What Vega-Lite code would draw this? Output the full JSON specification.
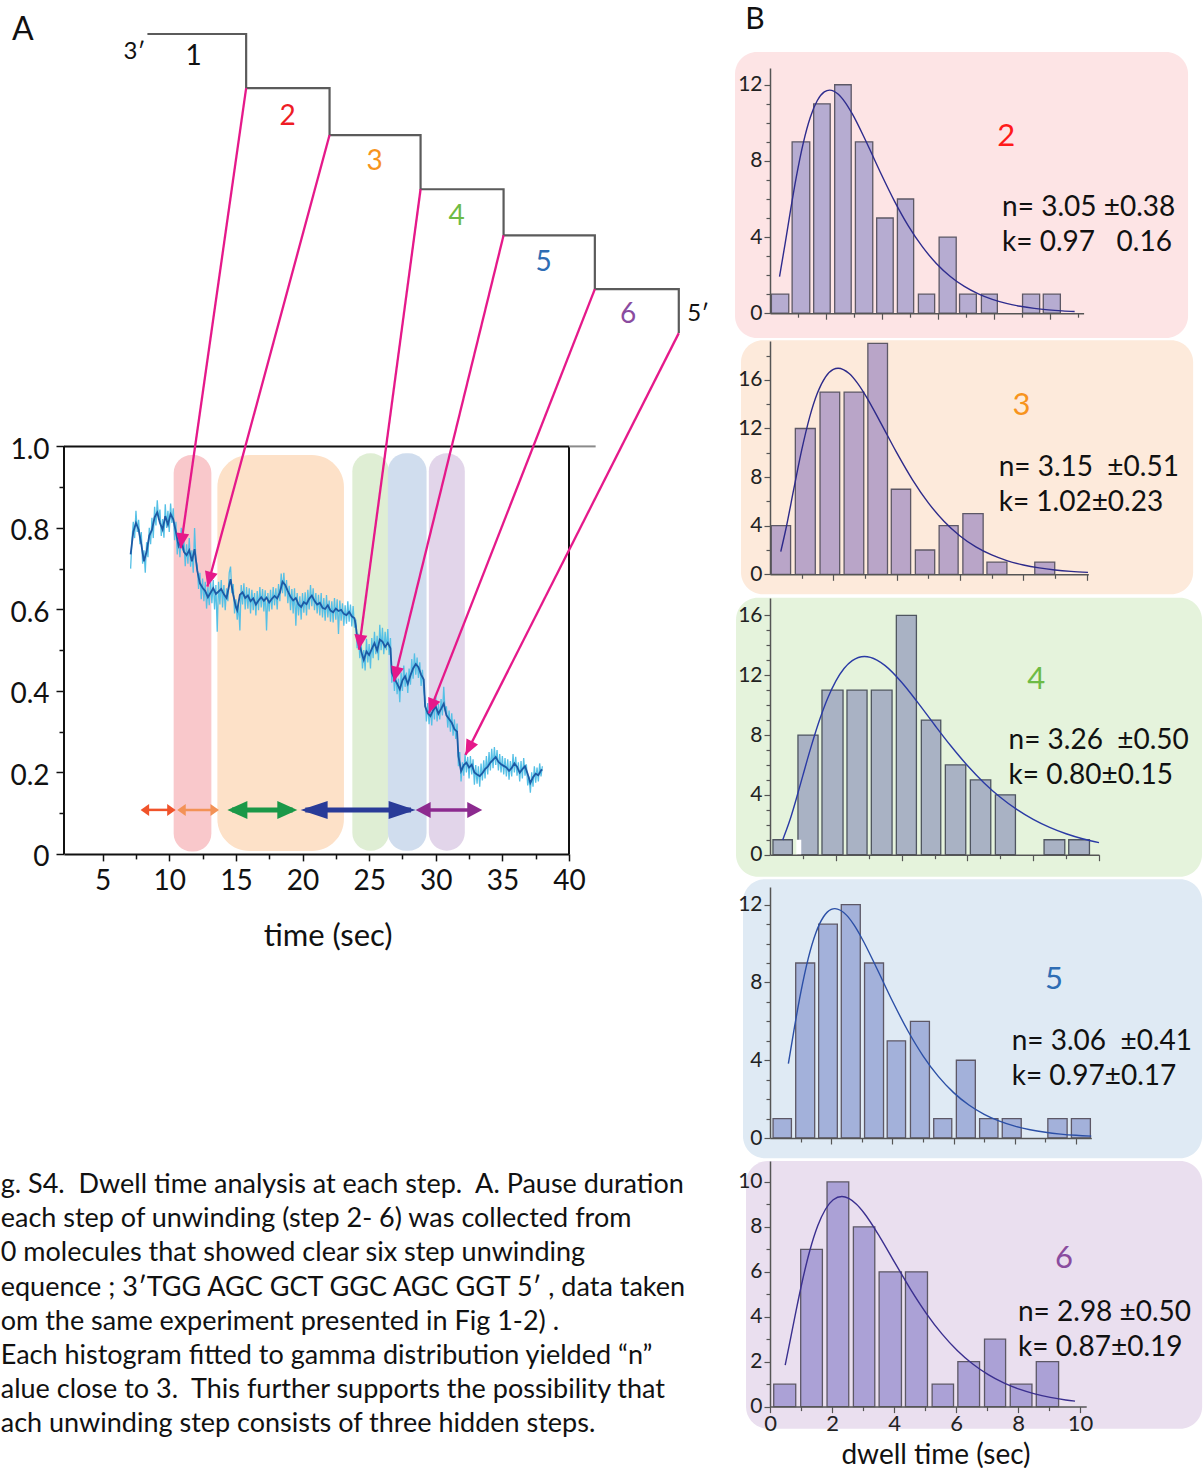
{
  "$schema": "https://vega.github.io/schema/vega-lite/v6.json",
  "background": "white",
  "padding": {"left": 0, "top": 5, "right": 0, "bottom": 0},
  "config": {
    "view": {"stroke": null},
    "font": "Lato",
    "axis": {"labelFont": "Lato", "titleFont": "Lato", "grid": false}
  },
  "datasets": {
    "smooth": [
      {"x":7.1,"y":0.735},{"x":7.3,"y":0.79},{"x":7.5,"y":0.812},{"x":7.7,"y":0.796},{"x":7.9,"y":0.76},{"x":8.1,"y":0.718},{"x":8.3,"y":0.742},{"x":8.5,"y":0.781},{"x":8.7,"y":0.795},{"x":8.9,"y":0.826},{"x":9.1,"y":0.838},{"x":9.3,"y":0.812},{"x":9.5,"y":0.796},{"x":9.7,"y":0.829},{"x":9.9,"y":0.808},{"x":10.1,"y":0.834},{"x":10.3,"y":0.821},{"x":10.5,"y":0.79},{"x":10.7,"y":0.756},{"x":10.9,"y":0.772},{"x":11.1,"y":0.741},{"x":11.3,"y":0.733},{"x":11.5,"y":0.745},{"x":11.7,"y":0.718},{"x":11.9,"y":0.748},{"x":12.1,"y":0.695},{"x":12.3,"y":0.664},{"x":12.5,"y":0.653},{"x":12.7,"y":0.645},{"x":12.9,"y":0.63},{"x":13.1,"y":0.641},{"x":13.3,"y":0.652},{"x":13.5,"y":0.638},{"x":13.7,"y":0.644},{"x":13.9,"y":0.65},{"x":14.1,"y":0.637},{"x":14.3,"y":0.628},{"x":14.5,"y":0.66},{"x":14.6,"y":0.674},{"x":14.8,"y":0.636},{"x":15.0,"y":0.606},{"x":15.1,"y":0.598},{"x":15.3,"y":0.636},{"x":15.5,"y":0.642},{"x":15.7,"y":0.628},{"x":15.9,"y":0.634},{"x":16.1,"y":0.62},{"x":16.3,"y":0.627},{"x":16.5,"y":0.612},{"x":16.7,"y":0.622},{"x":16.9,"y":0.63},{"x":17.1,"y":0.621},{"x":17.3,"y":0.629},{"x":17.5,"y":0.617},{"x":17.7,"y":0.626},{"x":17.9,"y":0.633},{"x":18.1,"y":0.627},{"x":18.3,"y":0.641},{"x":18.5,"y":0.668},{"x":18.7,"y":0.66},{"x":18.9,"y":0.645},{"x":19.1,"y":0.631},{"x":19.3,"y":0.622},{"x":19.5,"y":0.628},{"x":19.7,"y":0.612},{"x":19.9,"y":0.606},{"x":20.1,"y":0.618},{"x":20.3,"y":0.613},{"x":20.5,"y":0.626},{"x":20.7,"y":0.634},{"x":20.9,"y":0.621},{"x":21.1,"y":0.612},{"x":21.3,"y":0.616},{"x":21.5,"y":0.604},{"x":21.7,"y":0.601},{"x":21.9,"y":0.61},{"x":22.1,"y":0.597},{"x":22.3,"y":0.593},{"x":22.5,"y":0.602},{"x":22.7,"y":0.596},{"x":22.9,"y":0.599},{"x":23.1,"y":0.589},{"x":23.3,"y":0.586},{"x":23.5,"y":0.594},{"x":23.7,"y":0.583},{"x":23.9,"y":0.578},{"x":24.0,"y":0.56},{"x":24.1,"y":0.533},{"x":24.3,"y":0.511},{"x":24.5,"y":0.486},{"x":24.6,"y":0.476},{"x":24.8,"y":0.497},{"x":25.0,"y":0.488},{"x":25.2,"y":0.503},{"x":25.4,"y":0.517},{"x":25.6,"y":0.499},{"x":25.8,"y":0.526},{"x":26.0,"y":0.521},{"x":26.2,"y":0.508},{"x":26.4,"y":0.518},{"x":26.6,"y":0.505},{"x":26.7,"y":0.445},{"x":26.9,"y":0.43},{"x":27.1,"y":0.418},{"x":27.3,"y":0.404},{"x":27.5,"y":0.426},{"x":27.7,"y":0.436},{"x":27.9,"y":0.417},{"x":28.1,"y":0.438},{"x":28.3,"y":0.455},{"x":28.5,"y":0.466},{"x":28.7,"y":0.458},{"x":28.9,"y":0.44},{"x":29.1,"y":0.428},{"x":29.2,"y":0.362},{"x":29.4,"y":0.345},{"x":29.6,"y":0.338},{"x":29.8,"y":0.352},{"x":30.0,"y":0.362},{"x":30.2,"y":0.344},{"x":30.4,"y":0.356},{"x":30.6,"y":0.369},{"x":30.8,"y":0.34},{"x":31.0,"y":0.331},{"x":31.2,"y":0.322},{"x":31.4,"y":0.306},{"x":31.6,"y":0.3},{"x":31.7,"y":0.24},{"x":31.9,"y":0.203},{"x":32.1,"y":0.218},{"x":32.3,"y":0.224},{"x":32.5,"y":0.212},{"x":32.7,"y":0.219},{"x":32.9,"y":0.2},{"x":33.1,"y":0.195},{"x":33.3,"y":0.191},{"x":33.5,"y":0.198},{"x":33.7,"y":0.208},{"x":33.9,"y":0.214},{"x":34.1,"y":0.224},{"x":34.3,"y":0.231},{"x":34.5,"y":0.238},{"x":34.7,"y":0.226},{"x":34.9,"y":0.22},{"x":35.1,"y":0.216},{"x":35.3,"y":0.212},{"x":35.5,"y":0.204},{"x":35.7,"y":0.211},{"x":35.9,"y":0.222},{"x":36.1,"y":0.214},{"x":36.3,"y":0.199},{"x":36.5,"y":0.208},{"x":36.7,"y":0.215},{"x":36.9,"y":0.196},{"x":37.1,"y":0.174},{"x":37.3,"y":0.188},{"x":37.5,"y":0.197},{"x":37.7,"y":0.193},{"x":37.9,"y":0.205},{"x":38.0,"y":0.207}
    ],
    "raw": [
      {"x":7.1,"y":0.7},{"x":7.2,"y":0.77},{"x":7.3,"y":0.815},{"x":7.4,"y":0.775},{"x":7.5,"y":0.842},{"x":7.6,"y":0.79},{"x":7.7,"y":0.82},{"x":7.8,"y":0.76},{"x":7.9,"y":0.79},{"x":8.0,"y":0.712},{"x":8.1,"y":0.745},{"x":8.2,"y":0.69},{"x":8.3,"y":0.765},{"x":8.4,"y":0.728},{"x":8.5,"y":0.8},{"x":8.6,"y":0.76},{"x":8.7,"y":0.825},{"x":8.8,"y":0.775},{"x":8.9,"y":0.852},{"x":9.0,"y":0.806},{"x":9.1,"y":0.868},{"x":9.2,"y":0.82},{"x":9.3,"y":0.845},{"x":9.4,"y":0.78},{"x":9.5,"y":0.822},{"x":9.6,"y":0.776},{"x":9.7,"y":0.858},{"x":9.8,"y":0.8},{"x":9.9,"y":0.842},{"x":10.0,"y":0.79},{"x":10.1,"y":0.86},{"x":10.2,"y":0.812},{"x":10.3,"y":0.848},{"x":10.4,"y":0.77},{"x":10.5,"y":0.815},{"x":10.6,"y":0.735},{"x":10.7,"y":0.782},{"x":10.8,"y":0.728},{"x":10.9,"y":0.8},{"x":11.0,"y":0.745},{"x":11.1,"y":0.77},{"x":11.2,"y":0.706},{"x":11.3,"y":0.76},{"x":11.4,"y":0.712},{"x":11.5,"y":0.775},{"x":11.6,"y":0.705},{"x":11.7,"y":0.745},{"x":11.8,"y":0.69},{"x":11.9,"y":0.8},{"x":12.0,"y":0.72},{"x":12.1,"y":0.708},{"x":12.2,"y":0.65},{"x":12.3,"y":0.69},{"x":12.4,"y":0.625},{"x":12.5,"y":0.676},{"x":12.6,"y":0.62},{"x":12.7,"y":0.668},{"x":12.8,"y":0.602},{"x":12.9,"y":0.655},{"x":13.0,"y":0.61},{"x":13.1,"y":0.668},{"x":13.2,"y":0.615},{"x":13.3,"y":0.672},{"x":13.4,"y":0.6},{"x":13.5,"y":0.66},{"x":13.6,"y":0.545},{"x":13.7,"y":0.668},{"x":13.8,"y":0.612},{"x":13.9,"y":0.672},{"x":14.0,"y":0.605},{"x":14.1,"y":0.66},{"x":14.2,"y":0.598},{"x":14.3,"y":0.652},{"x":14.4,"y":0.62},{"x":14.5,"y":0.69},{"x":14.6,"y":0.705},{"x":14.7,"y":0.64},{"x":14.8,"y":0.662},{"x":14.9,"y":0.59},{"x":15.0,"y":0.625},{"x":15.1,"y":0.575},{"x":15.2,"y":0.612},{"x":15.3,"y":0.548},{"x":15.4,"y":0.66},{"x":15.5,"y":0.612},{"x":15.6,"y":0.664},{"x":15.7,"y":0.6},{"x":15.8,"y":0.655},{"x":15.9,"y":0.602},{"x":16.0,"y":0.652},{"x":16.1,"y":0.59},{"x":16.2,"y":0.648},{"x":16.3,"y":0.598},{"x":16.4,"y":0.64},{"x":16.5,"y":0.585},{"x":16.6,"y":0.645},{"x":16.7,"y":0.598},{"x":16.8,"y":0.655},{"x":16.9,"y":0.605},{"x":17.0,"y":0.65},{"x":17.1,"y":0.595},{"x":17.2,"y":0.647},{"x":17.3,"y":0.548},{"x":17.4,"y":0.64},{"x":17.5,"y":0.595},{"x":17.6,"y":0.648},{"x":17.7,"y":0.6},{"x":17.8,"y":0.655},{"x":17.9,"y":0.61},{"x":18.0,"y":0.652},{"x":18.1,"y":0.6},{"x":18.2,"y":0.662},{"x":18.3,"y":0.62},{"x":18.4,"y":0.688},{"x":18.5,"y":0.64},{"x":18.6,"y":0.69},{"x":18.7,"y":0.632},{"x":18.8,"y":0.672},{"x":18.9,"y":0.615},{"x":19.0,"y":0.658},{"x":19.1,"y":0.598},{"x":19.2,"y":0.65},{"x":19.3,"y":0.59},{"x":19.4,"y":0.652},{"x":19.5,"y":0.56},{"x":19.6,"y":0.64},{"x":19.7,"y":0.585},{"x":19.8,"y":0.632},{"x":19.9,"y":0.575},{"x":20.0,"y":0.64},{"x":20.1,"y":0.592},{"x":20.2,"y":0.642},{"x":20.3,"y":0.585},{"x":20.4,"y":0.648},{"x":20.5,"y":0.6},{"x":20.6,"y":0.66},{"x":20.7,"y":0.608},{"x":20.8,"y":0.652},{"x":20.9,"y":0.598},{"x":21.0,"y":0.64},{"x":21.1,"y":0.59},{"x":21.2,"y":0.636},{"x":21.3,"y":0.585},{"x":21.4,"y":0.64},{"x":21.5,"y":0.58},{"x":21.6,"y":0.628},{"x":21.7,"y":0.572},{"x":21.8,"y":0.635},{"x":21.9,"y":0.58},{"x":22.0,"y":0.622},{"x":22.1,"y":0.57},{"x":22.2,"y":0.62},{"x":22.3,"y":0.568},{"x":22.4,"y":0.628},{"x":22.5,"y":0.575},{"x":22.6,"y":0.625},{"x":22.7,"y":0.54},{"x":22.8,"y":0.622},{"x":22.9,"y":0.572},{"x":23.0,"y":0.615},{"x":23.1,"y":0.56},{"x":23.2,"y":0.61},{"x":23.3,"y":0.565},{"x":23.4,"y":0.62},{"x":23.5,"y":0.57},{"x":23.6,"y":0.612},{"x":23.7,"y":0.558},{"x":23.8,"y":0.608},{"x":23.9,"y":0.555},{"x":24.0,"y":0.575},{"x":24.1,"y":0.505},{"x":24.2,"y":0.54},{"x":24.3,"y":0.48},{"x":24.4,"y":0.52},{"x":24.5,"y":0.455},{"x":24.6,"y":0.5},{"x":24.7,"y":0.45},{"x":24.8,"y":0.528},{"x":24.9,"y":0.47},{"x":25.0,"y":0.515},{"x":25.1,"y":0.455},{"x":25.2,"y":0.53},{"x":25.3,"y":0.48},{"x":25.4,"y":0.545},{"x":25.5,"y":0.49},{"x":25.6,"y":0.535},{"x":25.7,"y":0.475},{"x":25.8,"y":0.562},{"x":25.9,"y":0.5},{"x":26.0,"y":0.555},{"x":26.1,"y":0.49},{"x":26.2,"y":0.545},{"x":26.3,"y":0.5},{"x":26.4,"y":0.552},{"x":26.5,"y":0.488},{"x":26.6,"y":0.53},{"x":26.7,"y":0.42},{"x":26.8,"y":0.455},{"x":26.9,"y":0.4},{"x":27.0,"y":0.445},{"x":27.1,"y":0.392},{"x":27.2,"y":0.43},{"x":27.3,"y":0.372},{"x":27.4,"y":0.445},{"x":27.5,"y":0.4},{"x":27.6,"y":0.462},{"x":27.7,"y":0.41},{"x":27.8,"y":0.445},{"x":27.9,"y":0.395},{"x":28.0,"y":0.455},{"x":28.1,"y":0.415},{"x":28.2,"y":0.478},{"x":28.3,"y":0.43},{"x":28.4,"y":0.492},{"x":28.5,"y":0.44},{"x":28.6,"y":0.482},{"x":28.7,"y":0.432},{"x":28.8,"y":0.47},{"x":28.9,"y":0.412},{"x":29.0,"y":0.452},{"x":29.1,"y":0.4},{"x":29.2,"y":0.38},{"x":29.3,"y":0.325},{"x":29.4,"y":0.37},{"x":29.5,"y":0.318},{"x":29.6,"y":0.36},{"x":29.7,"y":0.315},{"x":29.8,"y":0.375},{"x":29.9,"y":0.33},{"x":30.0,"y":0.388},{"x":30.1,"y":0.325},{"x":30.2,"y":0.368},{"x":30.3,"y":0.33},{"x":30.4,"y":0.38},{"x":30.5,"y":0.34},{"x":30.6,"y":0.41},{"x":30.7,"y":0.35},{"x":30.8,"y":0.362},{"x":30.9,"y":0.31},{"x":31.0,"y":0.352},{"x":31.1,"y":0.3},{"x":31.2,"y":0.345},{"x":31.3,"y":0.29},{"x":31.4,"y":0.33},{"x":31.5,"y":0.282},{"x":31.6,"y":0.32},{"x":31.7,"y":0.215},{"x":31.8,"y":0.25},{"x":31.9,"y":0.178},{"x":32.0,"y":0.225},{"x":32.1,"y":0.192},{"x":32.2,"y":0.245},{"x":32.3,"y":0.2},{"x":32.4,"y":0.238},{"x":32.5,"y":0.185},{"x":32.6,"y":0.24},{"x":32.7,"y":0.195},{"x":32.8,"y":0.232},{"x":32.9,"y":0.17},{"x":33.0,"y":0.218},{"x":33.1,"y":0.172},{"x":33.2,"y":0.215},{"x":33.3,"y":0.165},{"x":33.4,"y":0.222},{"x":33.5,"y":0.18},{"x":33.6,"y":0.23},{"x":33.7,"y":0.185},{"x":33.8,"y":0.24},{"x":33.9,"y":0.195},{"x":34.0,"y":0.25},{"x":34.1,"y":0.205},{"x":34.2,"y":0.258},{"x":34.3,"y":0.21},{"x":34.4,"y":0.262},{"x":34.5,"y":0.218},{"x":34.6,"y":0.255},{"x":34.7,"y":0.205},{"x":34.8,"y":0.245},{"x":34.9,"y":0.2},{"x":35.0,"y":0.24},{"x":35.1,"y":0.195},{"x":35.2,"y":0.235},{"x":35.3,"y":0.19},{"x":35.4,"y":0.232},{"x":35.5,"y":0.182},{"x":35.6,"y":0.228},{"x":35.7,"y":0.19},{"x":35.8,"y":0.245},{"x":35.9,"y":0.2},{"x":36.0,"y":0.238},{"x":36.1,"y":0.192},{"x":36.2,"y":0.225},{"x":36.3,"y":0.178},{"x":36.4,"y":0.228},{"x":36.5,"y":0.185},{"x":36.6,"y":0.235},{"x":36.7,"y":0.192},{"x":36.8,"y":0.22},{"x":36.9,"y":0.168},{"x":37.0,"y":0.19},{"x":37.1,"y":0.15},{"x":37.2,"y":0.2},{"x":37.3,"y":0.165},{"x":37.4,"y":0.215},{"x":37.5,"y":0.175},{"x":37.6,"y":0.212},{"x":37.7,"y":0.178},{"x":37.8,"y":0.222},{"x":37.9,"y":0.19},{"x":38.0,"y":0.215}
    ],
    "bands": [
      {"band":"2","x":10.33,"x2":13.16,"y":0.006,"y2":0.979},
      {"band":"3","x":13.61,"x2":23.11,"y":0.007,"y2":0.979},
      {"band":"4","x":23.74,"x2":26.48,"y":0.008,"y2":0.983},
      {"band":"5","x":26.41,"x2":29.31,"y":0.008,"y2":0.983},
      {"band":"6","x":29.48,"x2":32.18,"y":0.008,"y2":0.983}
    ],
    "frame": [
      {"x":2.1,"y":0,"x2":2.1,"y2":1},
      {"x":40,"y":0,"x2":40,"y2":1},
      {"x":2.1,"y":1,"x2":40,"y2":1}
    ],
    "stairs": [
      {"i":0,"x":8.36,"y":2.012},{"i":1,"x":15.77,"y":2.012},{"i":2,"x":15.77,"y":1.879},{"i":3,"x":22.03,"y":1.879},{"i":4,"x":22.03,"y":1.764},{"i":5,"x":28.86,"y":1.764},{"i":6,"x":28.86,"y":1.631},{"i":7,"x":35.09,"y":1.631},{"i":8,"x":35.09,"y":1.518},{"i":9,"x":41.94,"y":1.518},{"i":10,"x":41.94,"y":1.386},{"i":11,"x":48.24,"y":1.386},{"i":12,"x":48.24,"y":1.278}
    ],
    "pointers": [
      {"x":10.85,"y":0.75,"x2":15.77,"y2":1.879},
      {"x":12.86,"y":0.656,"x2":22.03,"y2":1.764},
      {"x":24.23,"y":0.501,"x2":28.86,"y2":1.631},
      {"x":26.86,"y":0.423,"x2":35.09,"y2":1.518},
      {"x":29.48,"y":0.345,"x2":41.94,"y2":1.386},
      {"x":32.23,"y":0.243,"x2":48.24,"y2":1.278}
    ],
    "spans": [
      {"step":"2","x":7.85,"x2":10.48,"y":0.108},
      {"step":"3","x":10.6,"x2":13.73,"y":0.108},
      {"step":"4","x":14.36,"x2":19.61,"y":0.108},
      {"step":"5","x":19.86,"x2":28.49,"y":0.108},
      {"step":"6","x":28.49,"x2":33.49,"y":0.108}
    ],
    "steps": [
      {"label":"1","x":11.83,"y":1.955},
      {"label":"2","x":18.88,"y":1.808},
      {"label":"3","x":25.41,"y":1.697},
      {"label":"4","x":31.56,"y":1.562},
      {"label":"5","x":38.09,"y":1.45},
      {"label":"6","x":44.43,"y":1.323}
    ],
    "ends": [
      {"label":"3′","x":7.39,"y":1.969},
      {"label":"5′","x":49.69,"y":1.324}
    ],
    "h2": [
      {"x":0.05,"x2":0.67,"y":1},{"x":0.79,"x2":1.42,"y":9},{"x":1.56,"x2":2.15,"y":11},{"x":2.31,"x2":2.9,"y":12},{"x":3.05,"x2":3.67,"y":9},{"x":3.81,"x2":4.4,"y":5},{"x":4.55,"x2":5.13,"y":6},{"x":5.3,"x2":5.88,"y":1},{"x":6.04,"x2":6.65,"y":4},{"x":6.77,"x2":7.37,"y":1},{"x":7.55,"x2":8.12,"y":1},{"x":9.02,"x2":9.63,"y":1},{"x":9.76,"x2":10.37,"y":1}
    ],
    "f2": [
      {"x":0.34,"y":1.918},{"x":0.54,"y":3.652},{"x":0.74,"y":5.463},{"x":0.94,"y":7.157},{"x":1.19,"y":8.949},{"x":1.44,"y":10.292},{"x":1.69,"y":11.171},{"x":1.94,"y":11.623},{"x":2.13,"y":11.72},{"x":2.44,"y":11.501},{"x":2.69,"y":11.066},{"x":2.94,"y":10.467},{"x":3.44,"y":8.992},{"x":3.94,"y":7.404},{"x":4.44,"y":5.903},{"x":4.94,"y":4.588},{"x":5.44,"y":3.493},{"x":5.94,"y":2.615},{"x":6.44,"y":1.93},{"x":6.94,"y":1.407},{"x":7.44,"y":1.015},{"x":7.94,"y":0.725},{"x":8.44,"y":0.514},{"x":8.94,"y":0.362},{"x":9.44,"y":0.253},{"x":9.94,"y":0.176},{"x":10.44,"y":0.122},{"x":10.88,"y":0.088}
    ],
    "h3": [
      {"x":0.04,"x2":0.65,"y":4},{"x":0.8,"x2":1.43,"y":12},{"x":1.58,"x2":2.2,"y":15},{"x":2.34,"x2":2.96,"y":15},{"x":3.09,"x2":3.71,"y":19},{"x":3.83,"x2":4.44,"y":7},{"x":4.59,"x2":5.2,"y":2},{"x":5.34,"x2":5.94,"y":4},{"x":6.09,"x2":6.73,"y":5},{"x":6.85,"x2":7.48,"y":1},{"x":8.36,"x2":8.99,"y":1}
    ],
    "f3": [
      {"x":0.34,"y":1.87},{"x":0.5,"y":3.707},{"x":0.75,"y":7.005},{"x":1.0,"y":10.212},{"x":1.25,"y":12.919},{"x":1.5,"y":14.938},{"x":1.75,"y":16.235},{"x":2.0,"y":16.865},{"x":2.15,"y":16.96},{"x":2.5,"y":16.518},{"x":2.75,"y":15.771},{"x":3.0,"y":14.79},{"x":3.5,"y":12.445},{"x":4.0,"y":10.009},{"x":4.5,"y":7.775},{"x":5.0,"y":5.878},{"x":5.5,"y":4.346},{"x":6.0,"y":3.155},{"x":6.5,"y":2.255},{"x":7.0,"y":1.592},{"x":7.5,"y":1.11},{"x":8.0,"y":0.767},{"x":8.5,"y":0.526},{"x":9.0,"y":0.357},{"x":9.5,"y":0.241},{"x":10.04,"y":0.157}
    ],
    "h4": [
      {"x":0.09,"x2":0.68,"y":1},{"x":0.85,"x2":1.46,"y":8},{"x":1.58,"x2":2.22,"y":11},{"x":2.34,"x2":2.95,"y":11},{"x":3.08,"x2":3.71,"y":11},{"x":3.84,"x2":4.45,"y":16},{"x":4.6,"x2":5.19,"y":9},{"x":5.33,"x2":5.95,"y":6},{"x":6.09,"x2":6.71,"y":5},{"x":6.85,"x2":7.46,"y":4},{"x":8.33,"x2":8.96,"y":1},{"x":9.08,"x2":9.71,"y":1}
    ],
    "f4": [
      {"x":0.385,"y":0.987},{"x":0.6,"y":2.281},{"x":0.8,"y":3.741},{"x":1.0,"y":5.303},{"x":1.25,"y":7.222},{"x":1.5,"y":8.966},{"x":1.75,"y":10.444},{"x":2.0,"y":11.605},{"x":2.25,"y":12.446},{"x":2.5,"y":12.973},{"x":2.87,"y":13.25},{"x":3.25,"y":13.014},{"x":3.5,"y":12.639},{"x":4.0,"y":11.531},{"x":4.5,"y":10.15},{"x":5.0,"y":8.684},{"x":5.5,"y":7.263},{"x":6.0,"y":5.961},{"x":6.5,"y":4.817},{"x":7.0,"y":3.839},{"x":7.5,"y":3.025},{"x":8.0,"y":2.359},{"x":8.5,"y":1.824},{"x":9.0,"y":1.399},{"x":9.5,"y":1.065},{"x":10.0,"y":0.806}
    ],
    "h5": [
      {"x":0.1,"x2":0.7,"y":1},{"x":0.84,"x2":1.46,"y":9},{"x":1.59,"x2":2.2,"y":11},{"x":2.33,"x2":2.95,"y":12},{"x":3.09,"x2":3.71,"y":9},{"x":3.83,"x2":4.43,"y":5},{"x":4.59,"x2":5.21,"y":6},{"x":5.35,"x2":5.94,"y":1},{"x":6.09,"x2":6.71,"y":4},{"x":6.85,"x2":7.45,"y":1},{"x":7.59,"x2":8.21,"y":1},{"x":9.08,"x2":9.71,"y":1},{"x":9.85,"x2":10.47,"y":1}
    ],
    "f5": [
      {"x":0.6,"y":3.828},{"x":0.8,"y":5.703},{"x":1.0,"y":7.438},{"x":1.25,"y":9.242},{"x":1.5,"y":10.558},{"x":1.75,"y":11.38},{"x":2.0,"y":11.757},{"x":2.12,"y":11.8},{"x":2.5,"y":11.463},{"x":2.75,"y":10.946},{"x":3.0,"y":10.275},{"x":3.5,"y":8.692},{"x":4.0,"y":7.045},{"x":4.5,"y":5.529},{"x":5.0,"y":4.229},{"x":5.5,"y":3.169},{"x":6.0,"y":2.334},{"x":6.5,"y":1.695},{"x":7.0,"y":1.216},{"x":7.5,"y":0.863},{"x":8.0,"y":0.607},{"x":8.5,"y":0.423},{"x":9.0,"y":0.293},{"x":9.5,"y":0.202},{"x":10.0,"y":0.138},{"x":10.5,"y":0.094}
    ],
    "h6": [
      {"x":0.12,"x2":0.83,"y":1},{"x":0.99,"x2":1.69,"y":7},{"x":1.84,"x2":2.54,"y":10},{"x":2.69,"x2":3.38,"y":8},{"x":3.52,"x2":4.24,"y":6},{"x":4.37,"x2":5.08,"y":6},{"x":5.23,"x2":5.92,"y":1},{"x":6.06,"x2":6.76,"y":2},{"x":6.92,"x2":7.6,"y":3},{"x":7.75,"x2":8.45,"y":1},{"x":8.59,"x2":9.31,"y":2}
    ],
    "f6": [
      {"x":0.49,"y":1.849},{"x":0.64,"y":2.868},{"x":0.84,"y":4.261},{"x":1.04,"y":5.568},{"x":1.29,"y":6.968},{"x":1.54,"y":8.043},{"x":1.79,"y":8.782},{"x":2.04,"y":9.203},{"x":2.32,"y":9.35},{"x":2.54,"y":9.266},{"x":2.79,"y":9.003},{"x":3.04,"y":8.605},{"x":3.54,"y":7.557},{"x":4.04,"y":6.373},{"x":4.54,"y":5.208},{"x":5.04,"y":4.153},{"x":5.54,"y":3.246},{"x":6.04,"y":2.496},{"x":6.54,"y":1.893},{"x":7.04,"y":1.419},{"x":7.54,"y":1.053},{"x":8.04,"y":0.774},{"x":8.54,"y":0.565},{"x":9.04,"y":0.41},{"x":9.54,"y":0.295},{"x":9.84,"y":0.242}
    ]
  },
  "spacing": 25,
  "hconcat": [
    {
      "width": 505,
      "height": 785.9,
      "encoding": {
        "x": {
          "field": "x", "type": "quantitative",
          "scale": {"domain": [2.1, 40], "nice": false, "zero": false},
          "axis": {
            "values": [5, 7.5, 10, 12.5, 15, 17.5, 20, 22.5, 25, 27.5, 30, 32.5, 35, 37.5, 40],
            "labelExpr": "datum.value % 5 === 0 ? datum.label : ''",
            "tickSize": {"condition": {"test": "datum.value % 5 === 0", "value": 7}, "value": 5},
            "title": "time (sec)", "titleFontSize": 31, "titleFontWeight": "normal", "titleColor": "#111",
            "titleX": 263.6, "titleY": 83, "titleAlign": "center", "titleBaseline": "middle",
            "labelFontSize": 28, "labelColor": "#111", "labelBaseline": "middle", "labelPadding": 21,
            "labelFlush": false, "labelOverlap": false, "labelBound": false,
            "domainColor": "#111", "domainWidth": 2, "tickColor": "#111", "tickWidth": 1.5, "zindex": 1
          }
        },
        "y": {
          "field": "y", "type": "quantitative",
          "scale": {"domain": [0, 1.9286], "nice": false, "zero": false},
          "axis": {
            "values": [0, 0.1, 0.2, 0.3, 0.4, 0.5, 0.6, 0.7, 0.8, 0.9, 1.0],
            "labelExpr": "round(datum.value * 10) % 2 === 0 ? (datum.value === 0 ? '0' : format(datum.value, '.1f')) : ''",
            "tickSize": {"condition": {"test": "round(datum.value * 10) % 2 === 0", "value": 8}, "value": 5},
            "domain": false, "title": null,
            "labelFontSize": 28, "labelColor": "#111", "labelPadding": 7, "labelOffset": 4, "labelOverlap": false,
            "tickColor": "#111", "tickWidth": 1.5, "zindex": 1
          }
        }
      },
      "resolve": {"scale": {"color": "independent", "shape": "independent"}},
      "layer": [
        {
          "data": {"name": "bands"},
          "transform": [{"filter": "datum.band === '3'"}],
          "mark": {"type": "rect", "cornerRadius": 32, "color": "#fde1c8"},
          "encoding": {"x2": {"field": "x2"}, "y2": {"field": "y2"}}
        },
        {
          "data": {"name": "bands"},
          "transform": [{"filter": "datum.band !== '3'"}],
          "mark": {"type": "rect", "cornerRadius": 18},
          "encoding": {
            "x2": {"field": "x2"}, "y2": {"field": "y2"},
            "color": {"field": "band", "type": "nominal", "scale": {"domain": ["2", "4", "5", "6"], "range": ["#f9c8cb", "#dfeed4", "#d0ddee", "#e2d5ea"]}, "legend": null}
          }
        },
        {"data": {"name": "raw"}, "mark": {"type": "line", "color": "#55c0e6", "strokeWidth": 1.3}},
        {"data": {"name": "smooth"}, "mark": {"type": "line", "color": "#1d5aa5", "strokeWidth": 1.8}},
        {
          "data": {"name": "frame"},
          "mark": {"type": "rule", "color": "#111", "strokeWidth": 2},
          "encoding": {"x2": {"field": "x2"}, "y2": {"field": "y2"}}
        },
        {
          "data": {"values": [{"x": 40, "x2": 42, "y": 1}]},
          "mark": {"type": "rule", "color": "#8a8a8a", "strokeWidth": 2},
          "encoding": {"x2": {"field": "x2"}}
        },
        {
          "data": {"name": "stairs"},
          "mark": {"type": "line", "color": "#5b5b5b", "strokeWidth": 2.2, "strokeJoin": "miter"},
          "encoding": {"order": {"field": "i", "type": "quantitative"}}
        },
        {
          "data": {"name": "pointers"},
          "mark": {"type": "rule", "color": "#e5198a", "strokeWidth": 2.3},
          "encoding": {"x2": {"field": "x2"}, "y2": {"field": "y2"}}
        },
        {
          "data": {"name": "pointers"},
          "transform": [{"calculate": "atan2(-(datum.x - datum.x2) * 13.32, -(datum.y - datum.y2) * 407.5) * 180 / PI", "as": "heading"}],
          "mark": {"type": "point", "shape": "M0,0L-6.5,-15L6.5,-15Z", "size": 4, "filled": true, "opacity": 1, "color": "#e5198a", "strokeWidth": 0},
          "encoding": {"angle": {"field": "heading", "type": "quantitative", "scale": null}}
        },
        {
          "data": {"name": "spans"},
          "transform": [
            {"filter": "datum.step === '2' || datum.step === '3'"},
            {"calculate": "datum.x + 0.35", "as": "xs"},
            {"calculate": "datum.x2 - 0.35", "as": "xe"}
          ],
          "mark": {"type": "rule", "strokeWidth": 2.5},
          "encoding": {
            "x": {"field": "xs", "type": "quantitative"}, "x2": {"field": "xe"},
            "color": {"field": "step", "type": "nominal", "scale": {"domain": ["2", "3"], "range": ["#f0532a", "#f39256"]}, "legend": null}
          }
        },
        {
          "data": {"name": "spans"},
          "transform": [
            {"filter": "datum.step === '4' || datum.step === '5'"},
            {"calculate": "datum.x + 0.35", "as": "xs"},
            {"calculate": "datum.x2 - 0.35", "as": "xe"}
          ],
          "mark": {"type": "rule", "strokeWidth": 5},
          "encoding": {
            "x": {"field": "xs", "type": "quantitative"}, "x2": {"field": "xe"},
            "color": {"field": "step", "type": "nominal", "scale": {"domain": ["4", "5"], "range": ["#1b9848", "#293b98"]}, "legend": null}
          }
        },
        {
          "data": {"name": "spans"},
          "transform": [
            {"filter": "datum.step === '6'"},
            {"calculate": "datum.x + 0.35", "as": "xs"},
            {"calculate": "datum.x2 - 0.35", "as": "xe"}
          ],
          "mark": {"type": "rule", "strokeWidth": 3.5, "color": "#8c2a8f"},
          "encoding": {"x": {"field": "xs", "type": "quantitative"}, "x2": {"field": "xe"}}
        },
        {
          "data": {"name": "spans"},
          "mark": {"type": "point", "filled": true, "opacity": 1, "size": 4, "strokeWidth": 0},
          "encoding": {
            "shape": {"field": "step", "type": "nominal", "scale": {"domain": ["2", "3", "4", "5", "6"], "range": ["M0,0L8.5,-6L8.5,6Z", "M0,0L8.5,-6L8.5,6Z", "M0,0L20,-9L20,9Z", "M0,0L27,-9L27,9Z", "M0,0L15,-8L15,8Z"]}, "legend": null},
            "color": {"field": "step", "type": "nominal", "scale": {"domain": ["2", "3", "4", "5", "6"], "range": ["#f0532a", "#f39256", "#1b9848", "#293b98", "#8c2a8f"]}, "legend": null}
          }
        },
        {
          "data": {"name": "spans"},
          "mark": {"type": "point", "filled": true, "opacity": 1, "size": 4, "strokeWidth": 0},
          "encoding": {
            "x": {"field": "x2", "type": "quantitative"},
            "shape": {"field": "step", "type": "nominal", "scale": {"domain": ["2", "3", "4", "5", "6"], "range": ["M0,0L-8.5,-6L-8.5,6Z", "M0,0L-8.5,-6L-8.5,6Z", "M0,0L-20,-9L-20,9Z", "M0,0L-27,-9L-27,9Z", "M0,0L-15,-8L-15,8Z"]}, "legend": null},
            "color": {"field": "step", "type": "nominal", "scale": {"domain": ["2", "3", "4", "5", "6"], "range": ["#f0532a", "#f39256", "#1b9848", "#293b98", "#8c2a8f"]}, "legend": null}
          }
        },
        {
          "data": {"name": "steps"},
          "mark": {"type": "text", "fontSize": 28},
          "encoding": {
            "text": {"field": "label"},
            "color": {"field": "label", "type": "nominal", "scale": {"domain": ["1", "2", "3", "4", "5", "6"], "range": ["#111111", "#ee1c25", "#f7941d", "#6dbb45", "#2e6db4", "#8a4c9f"]}, "legend": null}
          }
        },
        {
          "data": {"name": "ends"},
          "mark": {"type": "text", "fontSize": 24, "color": "#111"},
          "encoding": {"text": {"field": "label"}}
        },
        {
          "data": {"values": [{"x": -0.998, "y": 2.022}]},
          "mark": {"type": "text", "fontSize": 32, "color": "#111", "text": "A"}
        },
        {
          "data": {"values": [{"x": -2.649, "y": -0.8123}]},
          "mark": {
            "type": "text", "align": "left", "baseline": "middle", "fontSize": 27, "lineHeight": 34.2, "color": "#111",
            "text": [
              "g. S4. \u00a0Dwell time analysis at each step. \u00a0A. Pause duration",
              "\u00a0each step of unwinding (step 2- 6) was collected from",
              "0 molecules that showed clear six step unwinding",
              "equence ; 3′TGG AGC GCT GGC AGC GGT 5′ , data taken",
              "om the same experiment presented in Fig 1-2) .",
              "\u00a0\u00a0Each histogram fitted to gamma distribution yielded “n”",
              "alue close to 3. \u00a0This further supports the possibility that",
              "ach unwinding step consists of three hidden steps."
            ]
          }
        }
      ]
    },
    {
      "spacing": 2,
      "vconcat": [
        {
          "width": 313.6,
          "height": 245.2,
          "encoding": {
            "x": {"field": "x", "type": "quantitative", "scale": {"domain": [0, 11.2], "nice": false, "zero": false},
              "axis": {"values": [1, 2, 3, 4, 5, 6, 7, 8, 9, 10, 11], "labels": false, "title": null,
                "tickSize": {"condition": {"test": "datum.value % 2 === 0", "value": 6}, "value": 4},
                "domainColor": "#555", "domainWidth": 1.5, "tickColor": "#555", "tickWidth": 1.2, "zindex": 1}},
            "y": {"field": "y", "type": "quantitative", "scale": {"domain": [0, 12.88], "nice": false, "zero": false},
              "axis": {"values": [0, 1, 2, 3, 4, 5, 6, 7, 8, 9, 10, 11, 12], "labelExpr": "datum.value % 4 === 0 ? datum.label : ''",
                "tickSize": {"condition": {"test": "datum.value % 4 === 0", "value": 6}, "value": 4},
                "title": null, "labelFontSize": 21, "labelColor": "#222", "labelPadding": 2, "labelOverlap": false,
                "domainColor": "#555", "domainWidth": 1.5, "tickColor": "#555", "tickWidth": 1.2, "zindex": 1}}
          },
          "layer": [
            {"data": {"values": [{"x": -1.25, "x2": 14.93, "y": -1.3, "y2": 13.72}]}, "mark": {"type": "rect", "cornerRadius": 22, "color": "#fde4e5"},
              "encoding": {"x2": {"field": "x2"}, "y2": {"field": "y2"}}},
            {"data": {"name": "h2"}, "mark": {"type": "rect", "color": "#b6acd1", "stroke": "#5d5866", "strokeWidth": 1.3},
              "encoding": {"x2": {"field": "x2"}, "y2": {"datum": 0}}},
            {"data": {"name": "f2"}, "mark": {"type": "line", "color": "#2e2c8e", "strokeWidth": 1.4, "interpolate": "monotone"}},
            {"data": {"values": [{"x": 8.44, "y": 9.27}]}, "mark": {"type": "text", "fontSize": 31, "color": "#ff1a1a", "text": "2"}},
            {"data": {"values": [{"x": 8.29, "y": 5.51}]}, "mark": {"type": "text", "fontSize": 28, "color": "#111", "align": "left", "baseline": "middle", "lineHeight": 35,
              "text": ["n= 3.05 ±0.38", "k= 0.97\u00a0\u00a0 0.16"]}},
            {"data": {"values": [{"x": -0.536, "y": 15.4}]}, "mark": {"type": "text", "fontSize": 30, "color": "#111", "text": "B"}}
          ]
        },
        {
          "width": 318.3,
          "height": 233.3,
          "encoding": {
            "x": {"field": "x", "type": "quantitative", "scale": {"domain": [0, 10.05], "nice": false, "zero": false},
              "axis": {"values": [1, 2, 3, 4, 5, 6, 7, 8, 9, 10], "labels": false, "title": null,
                "tickSize": {"condition": {"test": "datum.value % 2 === 0", "value": 6}, "value": 4},
                "domainColor": "#555", "domainWidth": 1.5, "tickColor": "#555", "tickWidth": 1.2, "zindex": 1}},
            "y": {"field": "y", "type": "quantitative", "scale": {"domain": [0, 19.2], "nice": false, "zero": false},
              "axis": {"values": [0, 2, 4, 6, 8, 10, 12, 14, 16, 18], "labelExpr": "datum.value % 4 === 0 ? datum.label : ''",
                "tickSize": {"condition": {"test": "datum.value % 4 === 0", "value": 6}, "value": 4},
                "title": null, "labelFontSize": 21, "labelColor": "#222", "labelPadding": 2, "labelOverlap": false,
                "domainColor": "#555", "domainWidth": 1.5, "tickColor": "#555", "tickWidth": 1.2, "zindex": 1}}
          },
          "layer": [
            {"data": {"values": [{"x": -0.916, "x2": 13.36, "y": -1.646, "y2": 19.26}]}, "mark": {"type": "rect", "cornerRadius": 22, "color": "#fdeadb"},
              "encoding": {"x2": {"field": "x2"}, "y2": {"field": "y2"}}},
            {"data": {"name": "h3"}, "mark": {"type": "rect", "color": "#b9a5c8", "stroke": "#5d5866", "strokeWidth": 1.3},
              "encoding": {"x2": {"field": "x2"}, "y2": {"datum": 0}}},
            {"data": {"name": "f3"}, "mark": {"type": "line", "color": "#2d2a8a", "strokeWidth": 1.4, "interpolate": "monotone"}},
            {"data": {"values": [{"x": 7.94, "y": 13.85}]}, "mark": {"type": "text", "fontSize": 31, "color": "#f7941d", "text": "3"}},
            {"data": {"values": [{"x": 7.22, "y": 8.78}]}, "mark": {"type": "text", "fontSize": 28, "color": "#111", "align": "left", "baseline": "middle", "lineHeight": 35,
              "text": ["n= 3.15 \u00a0±0.51", "k= 1.02±0.23"]}}
          ]
        },
        {
          "width": 329,
          "height": 256.7,
          "encoding": {
            "x": {"field": "x", "type": "quantitative", "scale": {"domain": [0, 10], "nice": false, "zero": false},
              "axis": {"values": [1, 2, 3, 4, 5, 6, 7, 8, 9, 10], "labels": false, "title": null,
                "tickSize": {"condition": {"test": "datum.value % 2 === 0", "value": 6}, "value": 4},
                "domainColor": "#555", "domainWidth": 1.5, "tickColor": "#555", "tickWidth": 1.2, "zindex": 1}},
            "y": {"field": "y", "type": "quantitative", "scale": {"domain": [0, 17.16], "nice": false, "zero": false},
              "axis": {"values": [0, 1, 2, 3, 4, 5, 6, 7, 8, 9, 10, 11, 12, 13, 14, 15, 16], "labelExpr": "datum.value % 4 === 0 ? datum.label : ''",
                "tickSize": {"condition": {"test": "datum.value % 4 === 0", "value": 6}, "value": 4},
                "title": null, "labelFontSize": 21, "labelColor": "#222", "labelPadding": 2, "labelOverlap": false,
                "domainColor": "#555", "domainWidth": 1.5, "tickColor": "#555", "tickWidth": 1.2, "zindex": 1}}
          },
          "layer": [
            {"data": {"values": [{"x": -1.033, "x2": 13.13, "y": -1.47, "y2": 17.18}]}, "mark": {"type": "rect", "cornerRadius": 22, "color": "#e5f3dc"},
              "encoding": {"x2": {"field": "x2"}, "y2": {"field": "y2"}}},
            {"data": {"name": "h4"}, "mark": {"type": "rect", "color": "#a9b2c4", "stroke": "#4f5560", "strokeWidth": 1.3},
              "encoding": {"x2": {"field": "x2"}, "y2": {"datum": 0}}},
            {"data": {"values": [{"x": 0.8, "x2": 0.95, "y": 1, "y2": 0}]}, "mark": {"type": "rect", "color": "white"},
              "encoding": {"x2": {"field": "x2"}, "y2": {"field": "y2"}}},
            {"data": {"name": "f4"}, "mark": {"type": "line", "color": "#2a3aa5", "strokeWidth": 1.4, "interpolate": "monotone"}},
            {"data": {"values": [{"x": 8.09, "y": 11.7}]}, "mark": {"type": "text", "fontSize": 31, "color": "#6dbb45", "text": "4"}},
            {"data": {"values": [{"x": 7.25, "y": 7.57}]}, "mark": {"type": "text", "fontSize": 28, "color": "#111", "align": "left", "baseline": "middle", "lineHeight": 35,
              "text": ["n= 3.26 \u00a0±0.50", "k= 0.80±0.15"]}}
          ]
        },
        {
          "width": 321.3,
          "height": 251,
          "encoding": {
            "x": {"field": "x", "type": "quantitative", "scale": {"domain": [0, 10.5], "nice": false, "zero": false},
              "axis": {"values": [1, 2, 3, 4, 5, 6, 7, 8, 9, 10], "labels": false, "title": null,
                "tickSize": {"condition": {"test": "datum.value % 2 === 0", "value": 6}, "value": 4},
                "domainColor": "#555", "domainWidth": 1.5, "tickColor": "#555", "tickWidth": 1.2, "zindex": 1}},
            "y": {"field": "y", "type": "quantitative", "scale": {"domain": [0, 12.91], "nice": false, "zero": false},
              "axis": {"values": [0, 1, 2, 3, 4, 5, 6, 7, 8, 9, 10, 11, 12], "labelExpr": "datum.value % 4 === 0 ? datum.label : ''",
                "tickSize": {"condition": {"test": "datum.value % 4 === 0", "value": 6}, "value": 4},
                "title": null, "labelFontSize": 21, "labelColor": "#222", "labelPadding": 2, "labelOverlap": false,
                "domainColor": "#555", "domainWidth": 1.5, "tickColor": "#555", "tickWidth": 1.2, "zindex": 1}}
          },
          "layer": [
            {"data": {"values": [{"x": -0.882, "x2": 14.12, "y": -1.044, "y2": 13.31}]}, "mark": {"type": "rect", "cornerRadius": 22, "color": "#dfeaf4"},
              "encoding": {"x2": {"field": "x2"}, "y2": {"field": "y2"}}},
            {"data": {"name": "h5"}, "mark": {"type": "rect", "color": "#a3b1da", "stroke": "#5d5866", "strokeWidth": 1.3},
              "encoding": {"x2": {"field": "x2"}, "y2": {"datum": 0}}},
            {"data": {"name": "f5"}, "mark": {"type": "line", "color": "#2b4fa6", "strokeWidth": 1.4, "interpolate": "monotone"}},
            {"data": {"values": [{"x": 9.28, "y": 8.11}]}, "mark": {"type": "text", "fontSize": 31, "color": "#2e6db4", "text": "5"}},
            {"data": {"values": [{"x": 7.9, "y": 4.94}]}, "mark": {"type": "text", "fontSize": 28, "color": "#111", "align": "left", "baseline": "middle", "lineHeight": 35,
              "text": ["n= 3.06 \u00a0±0.41", "k= 0.97±0.17"]}}
          ]
        },
        {
          "width": 316.2,
          "height": 245.6,
          "encoding": {
            "x": {"field": "x", "type": "quantitative", "scale": {"domain": [0, 10.2], "nice": false, "zero": false},
              "axis": {"values": [0, 1, 2, 3, 4, 5, 6, 7, 8, 9, 10], "labelExpr": "datum.value % 2 === 0 ? datum.label : ''",
                "tickSize": {"condition": {"test": "datum.value % 2 === 0", "value": 6}, "value": 4},
                "labelFontSize": 22, "labelColor": "#222", "labelBaseline": "middle", "labelPadding": 11, "labelFlush": false, "labelOverlap": false,
                "title": "dwell time (sec)", "titleFontSize": 28, "titleFontWeight": "normal", "titleColor": "#111",
                "titleX": 165.5, "titleY": 49.3, "titleAlign": "center", "titleBaseline": "middle",
                "domainColor": "#555", "domainWidth": 1.5, "tickColor": "#555", "tickWidth": 1.2, "zindex": 1}},
            "y": {"field": "y", "type": "quantitative", "scale": {"domain": [0, 10.93], "nice": false, "zero": false},
              "axis": {"values": [0, 1, 2, 3, 4, 5, 6, 7, 8, 9, 10], "labelExpr": "datum.value % 2 === 0 ? datum.label : ''",
                "tickSize": {"condition": {"test": "datum.value % 2 === 0", "value": 6}, "value": 4},
                "title": null, "labelFontSize": 21, "labelColor": "#222", "labelPadding": 2, "labelOverlap": false,
                "domainColor": "#555", "domainWidth": 1.5, "tickColor": "#555", "tickWidth": 1.2, "zindex": 1}}
          },
          "layer": [
            {"data": {"values": [{"x": -0.774, "x2": 13.94, "y": -0.99, "y2": 10.93}]}, "mark": {"type": "rect", "cornerRadius": 22, "color": "#eadfef"},
              "encoding": {"x2": {"field": "x2"}, "y2": {"field": "y2"}}},
            {"data": {"name": "h6"}, "mark": {"type": "rect", "color": "#aba1d6", "stroke": "#5d5866", "strokeWidth": 1.3},
              "encoding": {"x2": {"field": "x2"}, "y2": {"datum": 0}}},
            {"data": {"name": "f6"}, "mark": {"type": "line", "color": "#3a2f8f", "strokeWidth": 1.4, "interpolate": "monotone"}},
            {"data": {"values": [{"x": 9.48, "y": 6.56}]}, "mark": {"type": "text", "fontSize": 31, "color": "#8a4c9f", "text": "6"}},
            {"data": {"values": [{"x": 8.0, "y": 4.18}]}, "mark": {"type": "text", "fontSize": 28, "color": "#111", "align": "left", "baseline": "middle", "lineHeight": 35,
              "text": ["n= 2.98 ±0.50", "k= 0.87±0.19"]}}
          ]
        }
      ]
    }
  ]
}
